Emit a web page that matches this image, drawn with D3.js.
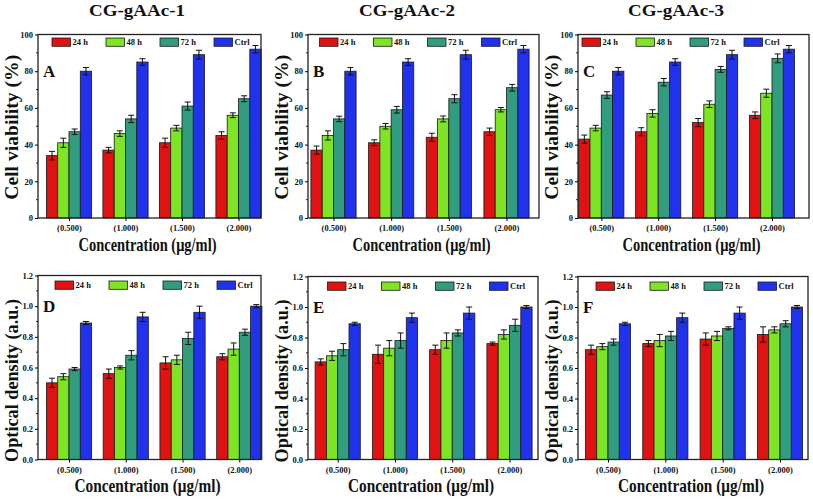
<!DOCTYPE html>
<html><head><meta charset="utf-8">
<script src="https://cdn.jsdelivr.net/npm/d3@7"></script>
<style>
html,body{margin:0;padding:0;background:#fff;}
text{font-family:"Liberation Serif","Times New Roman",serif;font-weight:bold;fill:#111;}
</style></head><body>
<svg id="c" width="813" height="499"></svg>
<script>
// ---- data ----
const categories = ["(0.500)", "(1.000)", "(1.500)", "(2.000)"];
const seriesNames = ["24 h", "48 h", "72 h", "Ctrl"];
const seriesColors = ["#e01212", "#7ee525", "#2f9d7e", "#2032ee"];
const columnTitles = ["CG-gAAc-1", "CG-gAAc-2", "CG-gAAc-3"];
const panelLetters = ["A", "B", "C", "D", "E", "F"];

const yTicksViability = [0, 20, 40, 60, 80, 100];
const yTicksOD = [0.0, 0.2, 0.4, 0.6, 0.8, 1.0, 1.2];

// Cell viability (%) : [series][category]
const viabA = [[34, 37, 41, 45], [41, 46, 49, 56], [47, 54, 61, 65], [80, 85, 89, 92]];
const viabAErr = [[2.3, 1.5, 2.5, 2], [2.5, 1.5, 1.5, 1.3], [1.5, 2, 2.2, 1.6], [2, 1.8, 2.4, 2]];
const viabB = [[37, 41, 44, 47], [45, 50, 54, 59], [54, 59, 65, 71], [80, 85, 89, 92]];
const viabBErr = [[2.2, 1.6, 2.2, 2], [2.5, 1.5, 1.6, 1.2], [1.5, 1.8, 2.2, 1.8], [2, 1.8, 2.4, 2]];
const viabC = [[43, 47, 52, 56], [49, 57, 62, 68], [67, 74, 81, 87], [80, 85, 89, 92]];
const viabCErr = [[2.2, 2.2, 2.2, 1.8], [1.5, 2, 1.8, 2.2], [1.8, 2, 1.6, 2.4], [2, 1.8, 2.4, 2]];

// Optical density (a.u.)
const odD = [[0.50, 0.56, 0.63, 0.67], [0.54, 0.60, 0.65, 0.72], [0.59, 0.68, 0.79, 0.83], [0.89, 0.93, 0.96, 1.00]];
const odDErr = [[0.03, 0.03, 0.04, 0.02], [0.02, 0.01, 0.03, 0.04], [0.01, 0.03, 0.04, 0.02], [0.01, 0.03, 0.04, 0.01]];
const odE = [[0.64, 0.69, 0.72, 0.76], [0.68, 0.73, 0.78, 0.82], [0.72, 0.78, 0.83, 0.88], [0.89, 0.93, 0.96, 1.00]];
const odEErr = [[0.02, 0.06, 0.03, 0.01], [0.03, 0.05, 0.05, 0.03], [0.04, 0.05, 0.02, 0.04], [0.01, 0.03, 0.04, 0.01]];
const odF = [[0.72, 0.76, 0.79, 0.82], [0.74, 0.78, 0.81, 0.85], [0.77, 0.81, 0.86, 0.89], [0.89, 0.93, 0.96, 1.00]];
const odFErr = [[0.03, 0.02, 0.04, 0.05], [0.02, 0.04, 0.03, 0.02], [0.02, 0.03, 0.01, 0.02], [0.01, 0.03, 0.04, 0.01]];

// ---- layout ----
const panels = [
  {v: viabA, e: viabAErr, L: 38, R: 261, T: 34.5, B: 218, c0: 69, c1: 238.5, leg: 14, kind: 0},
  {v: viabB, e: viabBErr, L: 308, R: 539, T: 34.5, B: 218, c0: 333.5, c1: 506.5, leg: 11.5, kind: 0},
  {v: viabC, e: viabCErr, L: 578, R: 809, T: 34.5, B: 218, c0: 601.3, c1: 772, leg: 4, kind: 0},
  {v: odD, e: odDErr, L: 38, R: 261, T: 275.5, B: 459.5, c0: 69, c1: 239.3, leg: 17, kind: 1},
  {v: odE, e: odEErr, L: 308, R: 538, T: 276.5, B: 459.5, c0: 337.7, c1: 509.5, leg: 19.5, kind: 1},
  {v: odF, e: odFErr, L: 578, R: 808, T: 276.5, B: 459.5, c0: 608, c1: 780, leg: 18, kind: 1}
];

const svg = d3.select("#c");
const SERIF = "'Liberation Serif', 'Times New Roman', serif";

columnTitles.forEach((t, i) => {
  svg.append("text").attr("x", [137, 407, 676][i]).attr("y", 16)
    .attr("text-anchor", "middle").attr("font-size", 17).attr("font-family", SERIF)
    .attr("textLength", 96).attr("lengthAdjust", "spacingAndGlyphs").text(t);
});

const barW = 11.3;

panels.forEach((p, pi) => {
  const g = svg.append("g");
  const yMax = p.kind === 0 ? 100 : 1.2;
  const y = d3.scaleLinear().domain([0, yMax]).range([p.B, p.T]);
  const x = d3.scalePoint().domain(categories).range([p.c0, p.c1]);
  const xs = d3.scaleBand().domain(seriesNames).range([-2 * barW, 2 * barW]);

  // bars
  seriesNames.forEach((s, si) => {
    categories.forEach((c, ci) => {
      const val = p.v[si][ci], er = p.e[si][ci];
      const bx = x(c) + xs(s);
      g.append("rect").attr("x", bx).attr("y", y(val))
        .attr("width", xs.bandwidth()).attr("height", y(0) - y(val))
        .attr("fill", seriesColors[si]).attr("stroke", "#1a1a1a").attr("stroke-width", 0.8);
      const cx = bx + xs.bandwidth() / 2;
      g.append("line").attr("x1", cx).attr("x2", cx).attr("y1", y(val - er)).attr("y2", y(val + er))
        .attr("stroke", "#111").attr("stroke-width", 1);
      [val - er, val + er].forEach(vv => {
        g.append("line").attr("x1", cx - 3).attr("x2", cx + 3).attr("y1", y(vv)).attr("y2", y(vv))
          .attr("stroke", "#111").attr("stroke-width", 1);
      });
    });
  });

  // frame
  g.append("rect").attr("x", p.L).attr("y", p.T).attr("width", p.R - p.L).attr("height", p.B - p.T)
    .attr("fill", "none").attr("stroke", "#222").attr("stroke-width", 1.3);

  // y axis
  const ticks = p.kind === 0 ? yTicksViability : yTicksOD;
  const yAxis = d3.axisLeft(y).tickValues(ticks).tickSize(3).tickPadding(2)
    .tickFormat(p.kind === 0 ? d3.format("d") : d3.format(".1f"));
  const ya = g.append("g").attr("transform", `translate(${p.L},0)`).call(yAxis);
  ya.attr("font-family", SERIF);
  ya.select(".domain").remove();
  ya.selectAll("text").attr("font-size", 8.5).attr("font-family", SERIF).attr("font-weight", "bold");
  // minor ticks
  const minor = d3.range(0, ticks.length - 1).map(i => (ticks[i] + ticks[i + 1]) / 2);
  minor.forEach(m => {
    g.append("line").attr("x1", p.L - 2).attr("x2", p.L).attr("y1", y(m)).attr("y2", y(m))
      .attr("stroke", "#222").attr("stroke-width", 1);
  });

  // x axis
  const xAxis = d3.axisBottom(x).tickSize(3).tickPadding(4);
  const xa = g.append("g").attr("transform", `translate(0,${p.B})`).call(xAxis);
  xa.attr("font-family", SERIF);
  xa.select(".domain").remove();
  xa.selectAll("text").attr("font-size", 8.5).attr("font-family", SERIF).attr("font-weight", "bold");

  // axis titles
  const midX = (p.L + p.R) / 2;
  g.append("text").attr("x", midX - 2).attr("y", p.B + 32.5).attr("text-anchor", "middle")
    .attr("font-size", 19).attr("font-family", SERIF).attr("textLength", p.kind === 0 ? 138 : 146)
    .attr("lengthAdjust", "spacingAndGlyphs").text("Concentration (μg/ml)");
  g.append("text")
    .attr("transform", `translate(${p.L - 20},${(p.T + p.B) / 2 + (p.kind === 0 ? 1 : 13)}) rotate(-90)`)
    .attr("text-anchor", "middle").attr("font-size", 18).attr("font-family", SERIF)
    .attr("textLength", p.kind === 0 ? 145 : 163).attr("lengthAdjust", "spacingAndGlyphs")
    .text(p.kind === 0 ? "Cell viability (%)" : "Optical density (a.u.)");

  // panel letter
  g.append("text").attr("x", p.L + 5).attr("y", p.T + (p.kind === 0 ? 42 : 36))
    .attr("font-size", 17).attr("font-family", SERIF).text(panelLetters[pi]);

  // legend
  const ly = p.T + (p.kind === 0 ? 7.5 : 9.5);
  seriesNames.forEach((s, si) => {
    const lx = p.L + p.leg + si * 54;
    g.append("rect").attr("x", lx).attr("y", ly - 4).attr("width", 18.5).attr("height", 8.3)
      .attr("fill", seriesColors[si]).attr("stroke", "#1a1a1a").attr("stroke-width", 0.8);
    g.append("text").attr("x", lx + 20.5).attr("y", ly + 3).attr("font-size", 8.5)
      .attr("font-family", SERIF).text(s);
  });
});
</script>
</body></html>
